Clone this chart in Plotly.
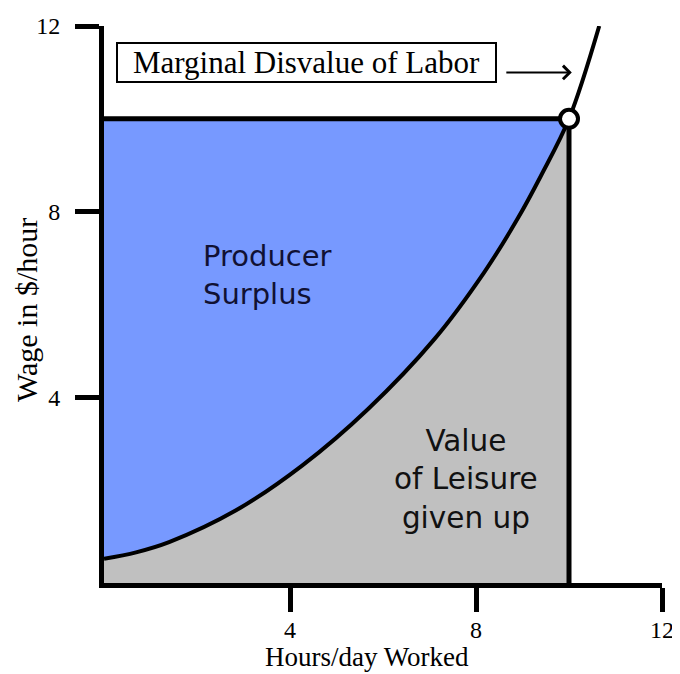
import plotly.graph_objects as go

# Data
hours = [0.0, 0.69, 1.4, 2.83, 4.26, 5.68, 7.11, 8.18, 8.89, 9.4, 10.0, 10.65]
wage = [0.52, 0.66, 0.88, 1.56, 2.53, 3.75, 5.26, 6.70, 7.84, 8.78, 10.0, 12.0]
eq_hours = 10
eq_wage = 10
tick_vals = [4, 8, 12]
tick_text = ["4", "8", "12"]

BLUE = "#7799FF"
GREY = "#C0C0C0"
SERIF = "Liberation Serif, Times New Roman, serif"
SANS = "DejaVu Sans, sans-serif"

# Layout geometry (figure pixels; page has an 8px body margin)
OFF = 8
W, H = 672, 666
L, R, T, B = 96, 18, 18, 91
PW, PH = W - L - R, H - T - B

def px2paper(px, py):
    fx, fy = px - OFF, py - OFF
    return (fx - L) / PW, (H - B - fy) / PH

cx = [h for h in hours if h <= eq_hours]
cy = [w for h, w in zip(hours, wage) if h <= eq_hours]
SM = 1.0

fig = go.Figure()

# Value of leisure (grey): below curve
fig.add_trace(go.Scatter(
    x=cx, y=cy, fill="tozeroy", fillcolor=GREY, mode="lines",
    line=dict(width=0, color="rgba(0,0,0,0)", shape="spline", smoothing=SM),
    hoverinfo="skip", showlegend=False))
# Wage level (reference for blue fill)
fig.add_trace(go.Scatter(
    x=[0, eq_hours], y=[eq_wage, eq_wage], mode="lines",
    line=dict(width=0, color="rgba(0,0,0,0)"),
    hoverinfo="skip", showlegend=False))
# Producer surplus (blue): between curve and wage
fig.add_trace(go.Scatter(
    x=cx, y=cy, fill="tonexty", fillcolor=BLUE, mode="lines",
    line=dict(width=0, color="rgba(0,0,0,0)", shape="spline", smoothing=SM),
    hoverinfo="skip", showlegend=False))
# Rectangle border
fig.add_trace(go.Scatter(
    x=[0, eq_hours, eq_hours], y=[eq_wage, eq_wage, 0],
    mode="lines", line=dict(color="black", width=5),
    hoverinfo="skip", showlegend=False, cliponaxis=False))
# Marginal disvalue curve
fig.add_trace(go.Scatter(
    x=hours, y=wage, mode="lines",
    line=dict(color="black", width=4, shape="spline", smoothing=SM),
    hoverinfo="skip", showlegend=False, cliponaxis=False))
# Equilibrium point
fig.add_trace(go.Scatter(
    x=[eq_hours], y=[eq_wage], mode="markers",
    marker=dict(size=18, color="white", line=dict(color="black", width=4)),
    hoverinfo="skip", showlegend=False, cliponaxis=False))

axis_common = dict(
    range=[0, 12], showgrid=False, zeroline=False, automargin=False,
    showline=True, linecolor="black", linewidth=5,
    ticks="outside", ticklen=24, tickwidth=5, tickcolor="black",
    tickvals=tick_vals, ticktext=tick_text,
    tickfont=dict(family=SERIF, size=24, color="black"),
)

xt = px2paper(367, 657)
yt = px2paper(26, 310)
box = px2paper(306.5, 62.5)

fig.update_layout(
    width=W, height=H,
    margin=dict(l=L, r=R, t=T, b=B),
    paper_bgcolor="white", plot_bgcolor="white",
    xaxis=dict(**axis_common, ticklabelstandoff=-3),
    yaxis=dict(**axis_common, ticklabelstandoff=10),
    annotations=[
        dict(x=xt[0], y=xt[1], xref="paper", yref="paper", text="Hours/day Worked",
             xanchor="center", yanchor="middle",
             showarrow=False, font=dict(family=SERIF, size=27, color="black")),
        dict(x=yt[0], y=yt[1], xref="paper", yref="paper", text="Wage in $/hour",
             xanchor="center", yanchor="middle",
             showarrow=False, textangle=-90, font=dict(family=SERIF, size=30, color="black")),
        dict(x=box[0], y=box[1], xref="paper", yref="paper", text="Marginal Disvalue of Labor",
             xanchor="center", yanchor="middle",
             showarrow=False, font=dict(family=SERIF, size=31, color="black"),
             width=375, height=35,
             bordercolor="black", borderwidth=2, borderpad=1, bgcolor="white"),
        dict(x=10.06, y=11.0, xref="x", yref="y", ax=8.62, ay=11.0, axref="x", ayref="y",
             text="", showarrow=True, arrowhead=4, arrowsize=1.3, arrowwidth=2, arrowcolor="black"),
        dict(x=2.09, y=6.64, xref="x", yref="y", text="Producer<br>Surplus",
             showarrow=False, xanchor="left", align="left",
             font=dict(family=SANS, size=29, color="#111133")),
        dict(x=7.78, y=2.22, xref="x", yref="y", text="Value<br>of Leisure<br>given up",
             showarrow=False, align="center",
             font=dict(family=SANS, size=29.5, color="#111111")),
    ],
)

fig.write_html("out.html")
